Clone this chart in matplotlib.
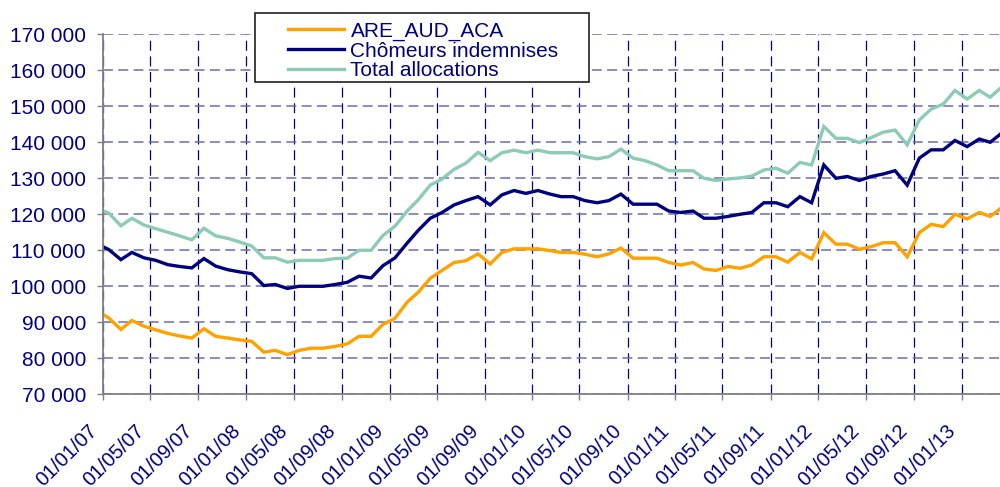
import pandas as pd
import matplotlib
matplotlib.use('Agg')
import matplotlib.pyplot as plt
import matplotlib.dates as mdates
import matplotlib.transforms as mtransforms
from matplotlib.ticker import FuncFormatter
from matplotlib.patches import Rectangle

plt.rcParams['font.family'] = ['Liberation Sans', 'DejaVu Sans']

# monthly values (mid-month), Dec 2006 -> Apr 2013, in thousands
months = pd.date_range('2006-12-01', '2013-04-01', freq='MS') + pd.Timedelta(days=14)

are_aud_aca = [
    93.2,
    91.2, 88.0, 90.5, 88.9, 87.9, 86.9, 86.2, 85.6, 88.2, 86.1, 85.6, 85.1,
    84.7, 81.7, 82.2, 81.0, 82.2, 82.8, 82.8, 83.3, 84.0, 86.1, 86.1, 89.4,
    91.1, 95.6, 98.3, 102.2, 104.4, 106.6, 107.1, 109.0, 106.2, 109.4, 110.4, 110.4,
    110.4, 109.9, 109.4, 109.4, 108.9, 108.2, 109.0, 110.6, 107.8, 107.8, 107.8, 106.6,
    105.9, 106.6, 104.8, 104.4, 105.5, 105.0, 105.9, 108.2, 108.2, 106.7, 109.4, 107.6,
    114.9, 111.7, 111.7, 110.3, 111.0, 112.1, 112.1, 108.2, 114.9, 117.2, 116.6, 120.0,
    118.7, 120.5, 119.4, 122.0,
]
chomeurs = [
    111.8,
    110.2, 107.4, 109.4, 107.9, 107.2, 106.0, 105.5, 105.1, 107.7, 105.6, 104.6, 104.0,
    103.5, 100.2, 100.5, 99.4, 100.0, 100.0, 100.0, 100.5, 101.1, 102.8, 102.3, 105.7,
    107.9, 112.0, 115.5, 118.9, 120.5, 122.6, 123.8, 124.9, 122.6, 125.4, 126.6, 125.8,
    126.6, 125.6, 124.9, 124.9, 123.8, 123.2, 123.8, 125.6, 122.8, 122.8, 122.8, 120.9,
    120.5, 120.9, 118.9, 118.9, 119.4, 120.0, 120.5, 123.2, 123.2, 122.1, 124.9, 123.2,
    133.7, 130.0, 130.5, 129.4, 130.5, 131.2, 132.1, 128.1, 135.6, 137.9, 137.9, 140.5,
    138.8, 140.9, 140.0, 142.7,
]
total_alloc = [
    121.7,
    120.3, 116.8, 118.9, 117.0, 116.0, 115.0, 114.0, 112.9, 116.1, 114.0, 113.3, 112.3,
    111.2, 107.9, 107.9, 106.7, 107.2, 107.2, 107.2, 107.7, 107.8, 110.0, 110.0, 114.1,
    116.7, 120.9, 124.0, 128.1, 129.8, 132.5, 134.2, 137.2, 134.9, 137.1, 137.8, 137.1,
    137.8, 137.1, 137.1, 137.1, 136.0, 135.4, 136.0, 138.1, 135.6, 134.9, 133.7, 132.1,
    132.1, 132.1, 130.0, 129.4, 129.8, 130.1, 130.6, 132.3, 132.8, 131.4, 134.4, 133.7,
    144.4, 141.1, 141.1, 139.9, 141.3, 142.8, 143.4, 139.3, 146.2, 149.2, 150.6, 154.4,
    152.0, 154.4, 152.5, 155.5,
]

labels = ['ARE_AUD_ACA', 'Chômeurs indemnises', 'Total allocations']
colors = ['#FFA200', '#000080', '#8ECBB4']
navy = '#000080'

fig = plt.figure(figsize=(10, 4.87), dpi=100)
ax = fig.add_axes([0.1033, 0.1904, 0.8967, 0.7392])

for vals, lab, col in zip([are_aud_aca, chomeurs, total_alloc], labels, colors):
    ax.plot(months, [v * 1000 for v in vals], color=col, lw=2.4, label=lab,
            solid_joinstyle='miter')

ax.set_ylim(70000, 170000)
ax.set_xlim(pd.Timestamp('2007-01-01'), pd.Timestamp('2013-04-09'))
ax.set_yticks(range(70000, 170001, 10000))
ax.yaxis.set_major_formatter(FuncFormatter(lambda v, p: f'{int(v):,}'.replace(',', ' ')))

xticks = pd.date_range('2007-01-01', '2013-01-01', freq='4MS')
ax.set_xticks(xticks)
ax.xaxis.set_major_formatter(mdates.DateFormatter('%d/%m/%y'))

# grid
ax.grid(axis='y', color='#6b6bb8', lw=1.1, linestyle=(0, (6.5, 3.5)))
ax.grid(axis='x', color=navy, lw=0.9, linestyle=(0, (8, 4.5)))
ax.set_axisbelow(True)

for s in ['top', 'right']:
    ax.spines[s].set_visible(False)
for s in ['left', 'bottom']:
    ax.spines[s].set_color('#808080')
    ax.spines[s].set_linewidth(1.3)

ax.tick_params(axis='y', colors='#808080', labelcolor=navy, labelsize=15,
               length=4.5, width=1, pad=8)
ax.tick_params(axis='x', colors='#808080', labelcolor=navy, labelsize=14.5,
               length=4.5, width=1, pad=19.5)
shift = mtransforms.ScaledTranslation(-0.09, 0, fig.dpi_scale_trans)
for lab in ax.get_xticklabels():
    lab.set_rotation(45)
    lab.set_ha('right')
    lab.set_va('center')
    lab.set_rotation_mode('anchor')
    lab.set_transform(lab.get_transform() + shift)

# legend with a plain box
box = Rectangle((0.255, 0.8316), 0.334, 0.1417, transform=fig.transFigure,
                facecolor='white', edgecolor='#202020', lw=1.2, zorder=4,
                clip_on=False)
ax.add_artist(box)
leg = ax.legend(loc='upper left', bbox_to_anchor=(0.288, 0.956),
                bbox_transform=fig.transFigure, frameon=False, fontsize=15,
                borderpad=0, borderaxespad=0, handlelength=2.7,
                handletextpad=0.3, labelspacing=0.04)
leg.set_zorder(5)
for t in leg.get_texts():
    t.set_color(navy)

fig.savefig('out.png', dpi=100)
